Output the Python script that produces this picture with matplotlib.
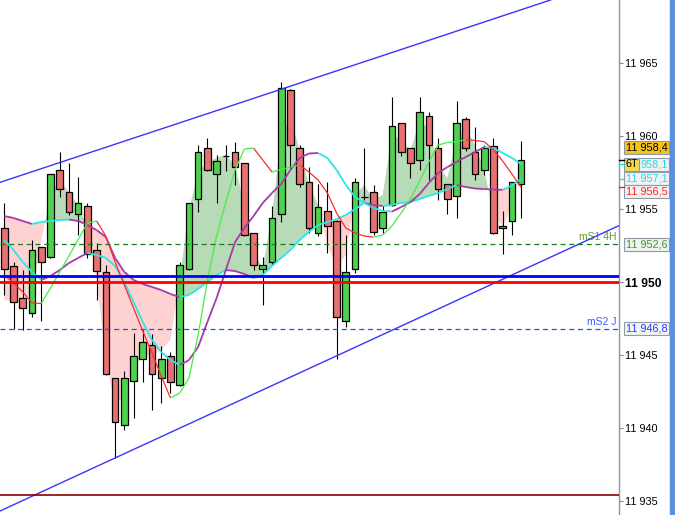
import numpy as np
import matplotlib
matplotlib.use('Agg')
import matplotlib.pyplot as plt
from matplotlib.collections import LineCollection
from matplotlib.patches import Rectangle
from matplotlib.lines import Line2D
from matplotlib.transforms import blended_transform_factory

# candles (one bar per period, oldest first)
opens = [11953.70, 11951.14, 11948.90, 11947.88, 11952.40, 11951.71, 11957.70, 11956.17, 11954.68, 11955.23,
         11952.21, 11950.69, 11943.42, 11940.20, 11943.21, 11944.74, 11945.68, 11943.42, 11944.95, 11942.96,
         11950.89, 11955.69, 11959.18, 11957.42, 11958.68, 11958.91, 11958.16, 11953.36, 11950.89, 11951.37,
         11954.66, 11963.18, 11959.18, 11956.85, 11953.36, 11954.89, 11954.20, 11947.37, 11950.89, 11955.87,
         11956.17, 11953.70, 11955.30, 11960.90, 11959.18, 11958.38, 11961.38, 11959.18, 11956.72, 11955.92,
         11961.17, 11958.91, 11957.70, 11959.36, 11953.70, 11954.20, 11956.72]
highs = [11955.41, 11951.41, 11950.84, 11952.90, 11952.45, 11957.45, 11958.95, 11958.16, 11957.24, 11955.41,
         11952.67, 11951.19, 11943.45, 11943.92, 11946.50, 11946.73, 11946.44, 11945.63, 11945.24, 11951.41,
         11955.45, 11959.41, 11959.87, 11958.73, 11959.41, 11959.64, 11958.20, 11953.40, 11951.75, 11955.23,
         11963.75, 11963.22, 11959.41, 11957.88, 11956.72, 11956.90, 11954.25, 11953.24, 11957.17, 11959.18,
         11956.67, 11955.30, 11962.68, 11960.95, 11959.22, 11962.68, 11961.65, 11959.87, 11956.75, 11962.43,
         11961.35, 11960.66, 11959.41, 11959.91, 11954.89, 11956.90, 11959.68]
lows = [11949.13, 11946.80, 11946.73, 11947.64, 11947.37, 11951.65, 11955.87, 11954.61, 11953.24, 11951.67,
        11948.80, 11943.65, 11937.94, 11939.88, 11940.68, 11943.19, 11941.25, 11941.71, 11942.39, 11942.90,
        11950.85, 11954.84, 11957.65, 11955.41, 11957.65, 11956.67, 11953.20, 11950.84, 11948.44, 11951.19,
        11954.15, 11957.81, 11956.50, 11953.36, 11953.19, 11951.99, 11944.72, 11946.92, 11950.66, 11955.64,
        11953.24, 11953.36, 11955.25, 11958.68, 11957.17, 11957.70, 11957.01, 11955.64, 11954.66, 11954.39,
        11959.00, 11957.00, 11957.35, 11953.30, 11951.92, 11953.24, 11954.39]
closes = [11950.89, 11948.67, 11948.22, 11952.21, 11951.37, 11957.40, 11956.39, 11954.84, 11955.41, 11951.92,
          11950.75, 11943.69, 11940.40, 11943.42, 11944.95, 11945.89, 11943.69, 11944.74, 11943.19, 11951.19,
          11955.41, 11958.91, 11957.70, 11958.33, 11958.68, 11957.88, 11953.24, 11951.19, 11951.17, 11954.39,
          11963.34, 11959.41, 11956.72, 11953.70, 11955.18, 11953.88, 11947.64, 11950.69, 11956.85, 11955.87,
          11953.43, 11954.84, 11960.69, 11958.95, 11958.16, 11961.65, 11959.41, 11956.39, 11955.71, 11960.90,
          11959.18, 11957.40, 11959.18, 11953.36, 11953.88, 11956.85, 11958.40]

# indicator lines
fast_ma = [11950.50, 11949.95, 11949.34, 11948.58, 11948.55, 11949.61, 11950.71, 11951.80, 11952.93, 11954.06,
           11954.20, 11953.17, 11951.39, 11949.81, 11948.24, 11946.66, 11945.15, 11943.58, 11942.07, 11942.41,
           11943.44, 11946.39, 11950.09, 11953.17, 11955.50, 11957.70, 11959.14, 11959.20, 11958.38, 11957.56,
           11957.73, 11957.90, 11958.04, 11957.56, 11957.01, 11956.12, 11954.75, 11953.72, 11953.38, 11953.17,
           11953.10, 11953.24, 11953.86, 11954.75, 11955.71, 11956.94, 11958.25, 11959.41, 11959.58, 11959.64,
           11959.79, 11959.72, 11959.64, 11959.07, 11958.31, 11957.42, 11956.50]
slow_a = [11954.54, 11954.41, 11954.20, 11954.00, 11954.13, 11954.20, 11954.27, 11954.30, 11954.20, 11953.93,
          11953.58, 11953.10, 11951.67, 11950.71, 11950.16, 11949.88, 11949.68, 11949.47, 11949.20, 11948.99,
          11949.13, 11949.54, 11950.02, 11950.50, 11950.84, 11950.77, 11950.57, 11950.29, 11950.50, 11951.12,
          11951.67, 11952.21, 11952.90, 11953.45, 11953.93, 11954.13, 11954.34, 11954.61, 11955.02, 11955.44,
          11955.30, 11955.23, 11955.30, 11955.44, 11955.50, 11955.71, 11955.92, 11956.12, 11956.39, 11956.67,
          11956.53, 11956.43, 11956.39, 11956.36, 11956.34, 11956.63, 11957.10]
slow_b = [11952.90, 11952.21, 11951.39, 11950.71, 11950.16, 11950.43, 11950.84, 11951.32, 11951.67, 11952.01,
          11951.87, 11951.67, 11951.12, 11950.02, 11948.65, 11947.28, 11946.05, 11945.22, 11944.67, 11944.33,
          11944.67, 11945.57, 11947.28, 11948.92, 11950.84, 11952.76, 11953.72, 11954.54, 11955.44, 11956.12,
          11956.74, 11957.70, 11958.52, 11958.83, 11958.86, 11958.52, 11957.70, 11956.67, 11955.85, 11955.44,
          11955.09, 11954.89, 11954.85, 11955.16, 11955.50, 11956.05, 11956.81, 11957.49, 11957.90, 11958.25,
          11958.59, 11958.93, 11959.27, 11959.20, 11958.86, 11958.52, 11958.10]
cloud_edge = [11948.79, 11948.65, 11948.65, 11949.34, 11952.90, 11955.98, 11957.01, 11956.19, 11955.30, 11953.72,
              11950.16, 11944.67, 11941.59, 11942.28, 11943.99, 11945.02, 11945.02, 11945.36, 11946.05, 11950.16,
              11954.96, 11957.56, 11958.25, 11958.52, 11958.73, 11958.04, 11955.30, 11952.08, 11950.98, 11954.61,
              11960.10, 11961.26, 11959.07, 11956.67, 11955.30, 11952.56, 11950.98, 11951.87, 11955.98, 11956.67,
              11955.64, 11955.98, 11960.10, 11959.75, 11959.07, 11960.99, 11960.58, 11958.04, 11957.15, 11959.75,
              11960.58, 11959.41, 11957.70, 11954.61, 11953.79, 11955.30, 11957.83]

# drawn objects
channel_upper = [(0, 11956.95), (60, 11969.52)]
channel_lower = [(0, 11934.46), (66, 11953.71)]
level_blue = 11950.45
level_red = 11950.0
level_ms1 = 11952.6
level_ms2 = 11946.8
level_bottom = 11935.4

y_ticks = [11935, 11940, 11945, 11950, 11955, 11960, 11965]

plt.rcParams['font.family'] = ['Liberation Sans', 'DejaVu Sans']

fig = plt.figure(figsize=(6.75, 5.15), dpi=100, facecolor='white')
ax = fig.add_axes([0, 0, 619 / 675, 1])
ax.set_xlim(-0.47, 66.6)
ax.set_ylim(11934.05, 11969.35)

x = np.arange(len(opens))
o = np.array(opens)
c = np.array(closes)
edge = np.array(cloud_edge)
base = np.array(slow_a)

# cloud between the edge line and the slow line
ax.fill_between(x, edge, base, where=edge >= base, interpolate=True,
                color='#b7dab7', lw=0, zorder=1)
ax.fill_between(x, edge, base, where=edge < base, interpolate=True,
                color='#ffd2d2', lw=0, zorder=1)

# candles
up = c >= o
ax.vlines(x, lows, highs, color='black', lw=0.8, zorder=2)
ax.bar(x, np.abs(c - o), 0.72, bottom=np.minimum(o, c),
       color=np.where(up, '#4ed24e', '#e87070'), edgecolor='black',
       linewidth=0.9, zorder=3)


def sloped_line(values, up_color, down_color, lw):
    v = np.array(values)
    pts = np.column_stack([x, v])
    segs = np.stack([pts[:-1], pts[1:]], axis=1)
    cols = [up_color if d >= 0 else down_color for d in np.diff(v)]
    ax.add_collection(LineCollection(segs, colors=cols, linewidths=lw, zorder=4))


sloped_line(slow_a, '#2ae6e6', '#a63aa6', 1.3)
sloped_line(slow_b, '#a63aa6', '#2ae6e6', 1.3)
sloped_line(fast_ma, '#44ee44', '#ff2a2a', 0.9)

# channel
ax.axline(channel_upper[0], channel_upper[1], color='#3535ff', lw=1.0, zorder=5)
ax.axline(channel_lower[0], channel_lower[1], color='#3535ff', lw=1.0, zorder=5)

# levels
ax.axhline(level_ms1, color='#1a7a1a', lw=0.9, ls=(0, (4, 3)), zorder=5)
ax.axhline(level_ms2, color='#1e50ff', lw=0.9, ls=(0, (4, 3)), zorder=5)
ax.axhline(level_bottom, color='#8b0000', lw=1.2, zorder=5)
ax.axhline(level_blue, color='#0000ff', lw=2.0, zorder=6)
ax.axhline(level_red, color='#ff0000', lw=2.0, zorder=6)

ax.annotate('mS1 4H', xy=(1, level_ms1), xycoords=('axes fraction', 'data'),
            xytext=(-2, 1.5), textcoords='offset points', ha='right', va='bottom',
            color='#5a9e1e', fontsize=7.5)
ax.annotate('mS2 J', xy=(1, level_ms2), xycoords=('axes fraction', 'data'),
            xytext=(-2, 1.5), textcoords='offset points', ha='right', va='bottom',
            color='#3a5cff', fontsize=7.5)

# axis
for s in ['top', 'left', 'bottom']:
    ax.spines[s].set_visible(False)
ax.spines['right'].set_color('#8797a6')
ax.spines['right'].set_linewidth(1.0)
ax.set_xticks([])
ax.yaxis.tick_right()
ax.set_yticks(y_ticks)
ax.set_yticklabels([f'{t // 1000} {t % 1000:03d}' for t in y_ticks])
ax.tick_params(axis='y', direction='out', length=3, width=0.8, color='#808890',
               pad=1.5, labelsize=7.8)
for lab in ax.get_yticklabels():
    if lab.get_text() == '11 950':
        lab.set_fontweight('bold')
        lab.set_fontsize(8.7)

# value boxes on the price scale
trans = blended_transform_factory(fig.transFigure, ax.transData)
ppx = (ax.get_ylim()[1] - ax.get_ylim()[0]) / 515


def value_box(value, text, color, face, x0=624, w=45, shift=0):
    yc = value - shift * ppx
    fig.add_artist(Rectangle((x0 / 675, yc - 6.5 * ppx), w / 675, 13 * ppx, transform=trans,
                             facecolor=face, edgecolor='#8e9ba6', lw=0.8, clip_on=False))
    fig.text((x0 + w / 2) / 675, yc, text, transform=trans, ha='center', va='center',
             color=color, fontsize=7.8)


def fmt(v):
    s = f'{v:.1f}'.replace('.', ',')
    return s[:2] + ' ' + s[2:]


last_close = closes[-1]
value_box(last_close, fmt(last_close), 'black', '#f6c21c', shift=-12.7)
value_box(slow_b[-1], '6T', 'black', '#f2da4e', x0=624, w=15)
value_box(slow_b[-1], fmt(slow_b[-1])[3:], '#1fdde8', '#f2f2f2', x0=639, w=30)
value_box(slow_a[-1], fmt(slow_a[-1]), '#1fdde8', '#f2f2f2')
value_box(fast_ma[-1], fmt(fast_ma[-1]), '#ff2020', '#f2f2f2', shift=4)
value_box(level_ms1, fmt(level_ms1), '#3c9a2e', '#f2f2f2')
value_box(level_ms2, fmt(level_ms2), '#2a3cff', '#f2f2f2')

for val, col in [(last_close, 'black'), (slow_b[-1], '#1fdde8'),
                 (slow_a[-1], '#1fdde8'), (fast_ma[-1], '#ff2020')]:
    fig.add_artist(Line2D([619 / 675, 624 / 675], [val, val], transform=trans, color=col, lw=1.0))

fig.add_artist(Rectangle((670 / 675, 0), 5 / 675, 1, transform=fig.transFigure,
                         color='#5a8fe0'))

fig.savefig('out.png', dpi=100)
